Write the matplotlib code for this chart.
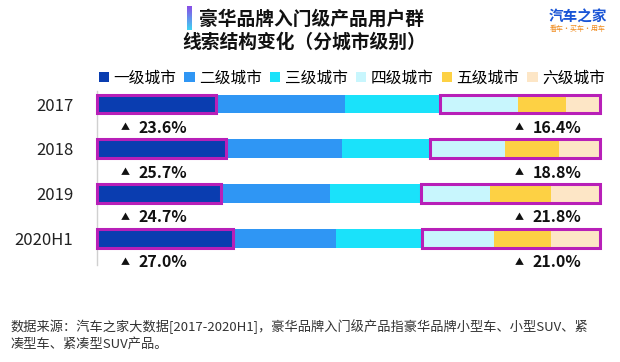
import matplotlib
matplotlib.use("Agg")
import matplotlib.pyplot as plt
from matplotlib.patches import Rectangle, Patch
from matplotlib.colors import LinearSegmentedColormap
import numpy as np

plt.rcParams['font.family'] = ['Noto Sans CJK SC', 'DejaVu Sans']

years = ["2017", "2018", "2019", "2020H1"]
tiers = ["一级城市", "二级城市", "三级城市", "四级城市", "五级城市", "六级城市"]
tier1 = [23.6, 25.7, 24.7, 27.0]
tier2 = [25.8, 23.1, 21.6, 20.5]
tier3 = [18.7, 17.5, 18.2, 17.1]
tier4 = [15.5, 14.9, 13.7, 14.4]
tier5 = [9.7, 10.6, 12.0, 11.3]
tier6 = [6.7, 8.2, 9.8, 9.7]
left_labels = ["23.6%", "25.7%", "24.7%", "27.0%"]
right_labels = ["16.4%", "18.8%", "21.8%", "21.0%"]

colors = ["#0a3db0", "#2f96f4", "#1ae2fa", "#c8f6fd", "#fdd144", "#fde6c6"]
box_color = "#b81fb8"

W, H = 620, 362
fig = plt.figure(figsize=(W / 100, H / 100), dpi=100)
fig.patch.set_facecolor("white")

ax = fig.add_axes([97 / W, 1 - 265.4 / H, 503 / W, (265.4 - 90.6) / H])
series = [tier1, tier2, tier3, tier4, tier5, tier6]
y = np.arange(len(years))
bh = 0.42
left = np.zeros(len(years))
for vals, c, name in zip(series, colors, tiers):
    ax.barh(y, vals, left=left, height=bh, color=c, edgecolor="none", label=name)
    left = left + np.array(vals)

cum3 = np.array(tier1) + np.array(tier2) + np.array(tier3)
total = left
for i in range(len(years)):
    ax.add_patch(Rectangle((0, y[i] - bh / 2), tier1[i], bh, fill=False,
                           edgecolor=box_color, lw=2.2, zorder=5, clip_on=False))
    ax.add_patch(Rectangle((cum3[i], y[i] - bh / 2), total[i] - cum3[i], bh, fill=False,
                           edgecolor=box_color, lw=2.2, zorder=5, clip_on=False))
    ly = y[i] + 0.53
    ax.text(5.6, ly, "▲", fontsize=6.5, ha="center", va="center", color="#111111")
    ax.text(8.2, ly, left_labels[i], fontsize=11.5, fontweight="bold", ha="left",
            va="center", color="#111111")
    ax.text(84.0, ly, "▲", fontsize=6.5, ha="center", va="center", color="#111111")
    ax.text(86.6, ly, right_labels[i], fontsize=11.5, fontweight="bold", ha="left",
            va="center", color="#111111")

ax.set_xlim(0, 100)
ax.set_ylim(3.6, -0.3)
ax.set_yticks(y)
ax.set_yticklabels(years, fontsize=12, color="#222222")
ax.set_xticks([])
ax.tick_params(axis="y", length=0, pad=17)
for s in ["top", "right", "bottom"]:
    ax.spines[s].set_visible(False)
ax.spines["left"].set_color("#d0d0d0")
ax.spines["left"].set_linewidth(1)

handles = [Patch(facecolor=c, edgecolor="none") for c in colors]
fig.legend(handles, tiers, loc="center", bbox_to_anchor=(352 / W, 1 - 78 / H), ncol=6,
           frameon=False, fontsize=11.3, handlelength=0.65, handleheight=0.65,
           handletextpad=0.3, columnspacing=0.5, borderaxespad=0, borderpad=0)

# title
fig.text(312 / W, 1 - 19 / H, "豪华品牌入门级产品用户群", fontsize=13.5, fontweight="bold",
         ha="center", va="center", color="#111111")
fig.text(304 / W, 1 - 42 / H, "线索结构变化（分城市级别）", fontsize=13.5, fontweight="bold",
         ha="center", va="center", color="#111111")
gax = fig.add_axes([187 / W, 1 - 30 / H, 5 / W, 24 / H])
grad = np.linspace(0, 1, 64).reshape(-1, 1)
cmap = LinearSegmentedColormap.from_list("g", ["#8a4de6", "#3fd3f2"])
gax.imshow(grad, aspect="auto", cmap=cmap)
gax.axis("off")

# logo
fig.text(578 / W, 1 - 17 / H, "汽车之家", fontsize=10.5, fontweight="bold", ha="center",
         va="center", color="#1a55d6")
fig.text(578 / W, 1 - 29 / H, "看车·买车·用车", fontsize=5, ha="center", va="center",
         color="#f08a1c")

# footnote
fig.text(10 / W, 1 - 327 / H,
         "数据来源：汽车之家大数据[2017-2020H1]，豪华品牌入门级产品指豪华品牌小型车、小型SUV、紧",
         fontsize=9.5, ha="left", va="center", color="#333333")
fig.text(10 / W, 1 - 344 / H, "凑型车、紧凑型SUV产品。", fontsize=9.5, ha="left",
         va="center", color="#333333")

fig.savefig("out.png", dpi=100, facecolor="white")
